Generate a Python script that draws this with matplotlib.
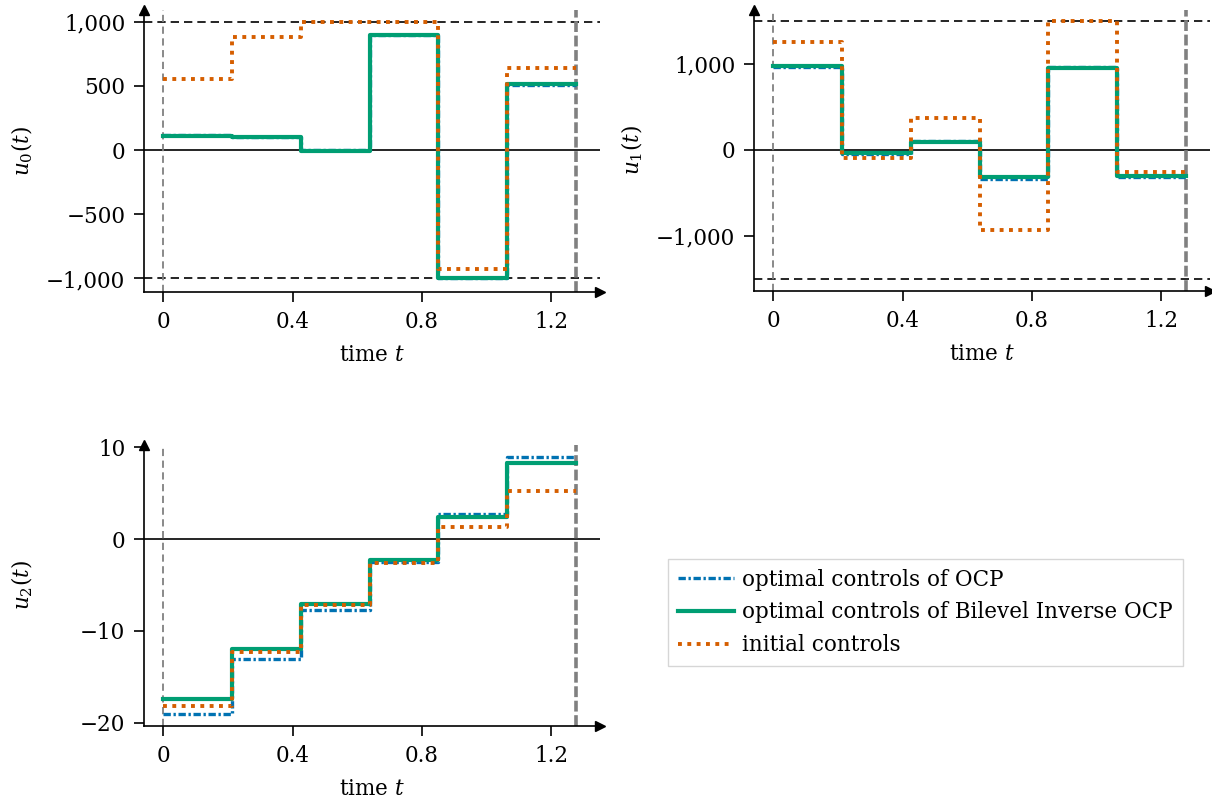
import numpy as np
import matplotlib
matplotlib.use("Agg")
import matplotlib.pyplot as plt
from matplotlib.ticker import FuncFormatter

plt.rcParams['font.family'] = 'DejaVu Serif'
plt.rcParams['mathtext.fontset'] = 'dejavuserif'
FS = 15.5

# time grid: 6 control intervals on [0, T]
T = 1.275
t_grid = np.linspace(0.0, T, 7)

# u0
u0_ocp = [118, 100, 2, 895, -1000, 510]
u0_bilevel = [112, 99, -5, 896, -1000, 512]
u0_init = [551, 878, 1000, 1000, -925, 636]
u0_bound = 1000

# u1
u1_ocp = [970, -42, 100, -335, 962, -310]
u1_bilevel = [973, -39, 97, -319, 953, -304]
u1_init = [1257, -89, 377, -934, 1500, -253]
u1_bound = 1500

# u2
u2_ocp = [-19.0, -13.1, -7.67, -2.47, 2.69, 8.98]
u2_bilevel = [-17.38, -11.93, -7.09, -2.22, 2.44, 8.25]
u2_init = [-18.15, -12.33, -7.16, -2.55, 1.27, 5.27]

c_ocp = '#0072B2'
c_bil = '#009E73'
c_init = '#D55E00'


def fmt(v, pos):
    s = '{:,.0f}'.format(v) if abs(v) >= 1000 else '{:g}'.format(v)
    return s.replace('-', '\u2212')


def draw(ax, ocp, bil, init, ylab, ylim, yticks, bound=None):
    def ext(v):
        return list(v) + [v[-1]]
    l1, = ax.plot(t_grid, ext(ocp), drawstyle='steps-post', color=c_ocp, lw=2.4,
                  linestyle=(0, (2.2, 0.8, 0.7, 0.8)), zorder=2)
    l2, = ax.plot(t_grid, ext(bil), drawstyle='steps-post', color=c_bil, lw=3.0, zorder=3)
    l3, = ax.plot(t_grid, ext(init), drawstyle='steps-post', color=c_init, lw=2.8,
                  linestyle=(0, (1, 1.4)), zorder=4)
    ax.axhline(0, color='black', lw=1.2, zorder=1)
    if bound is not None:
        ax.axhline(bound, color='black', lw=1.2, ls=(0, (5, 3)), zorder=1)
        ax.axhline(-bound, color='black', lw=1.2, ls=(0, (5, 3)), zorder=1)
    ax.axvline(0, color='gray', lw=1.3, ls=(0, (4, 2.5)), zorder=1)
    ax.axvline(T, color='gray', lw=2.6, ls=(0, (3, 1)), zorder=1)
    ax.set_xlim(-0.06, 1.35)
    ax.set_ylim(*ylim)
    ax.set_xticks([0, 0.4, 0.8, 1.2])
    ax.set_xticklabels(['0', '0.4', '0.8', '1.2'])
    ax.set_yticks(yticks)
    ax.yaxis.set_major_formatter(FuncFormatter(fmt))
    ax.spines['top'].set_visible(False)
    ax.spines['right'].set_visible(False)
    ax.spines['left'].set_linewidth(1.2)
    ax.spines['bottom'].set_linewidth(1.2)
    ax.tick_params(direction='out', length=7.5, width=1.2, labelsize=FS, pad=6)
    ax.plot(1, 0, '>k', markersize=7, transform=ax.transAxes, clip_on=False)
    ax.plot(0, 1, '^k', markersize=7, transform=ax.transAxes, clip_on=False)
    ax.set_xlabel('time $t$', fontsize=FS, labelpad=8)
    ax.set_ylabel(ylab, fontsize=FS)
    ax.yaxis.set_label_coords(-0.24, 0.5)
    return l1, l2, l3


fig = plt.figure(figsize=(12.12, 8.01), dpi=100)
ax0 = fig.add_axes([0.1188, 0.6355, 0.3762, 0.352])
ax1 = fig.add_axes([0.6221, 0.6367, 0.3762, 0.351])
ax2 = fig.add_axes([0.1188, 0.0936, 0.3762, 0.3508])

draw(ax0, u0_ocp, u0_bilevel, u0_init, '$u_0(t)$', (-1105, 1090),
     [-1000, -500, 0, 500, 1000], u0_bound)
draw(ax1, u1_ocp, u1_bilevel, u1_init, '$u_1(t)$', (-1645, 1633),
     [-1000, 0, 1000], u1_bound)
lines = draw(ax2, u2_ocp, u2_bilevel, u2_init, '$u_2(t)$', (-20.36, 10.25),
             [-20, -10, 0, 10])

leg = fig.legend(lines, ['optimal controls of OCP',
                         'optimal controls of Bilevel Inverse OCP',
                         'initial controls'],
                 loc='upper left', bbox_to_anchor=(668 / 1212, 1 - 559 / 801),
                 fontsize=FS, frameon=True, fancybox=False, handlelength=2.6,
                 handletextpad=0.4, borderpad=0.45, labelspacing=0.5,
                 borderaxespad=0.0)
leg.get_frame().set_edgecolor('#cccccc')
leg.get_frame().set_linewidth(1.0)

fig.savefig('out.png', dpi=100)
